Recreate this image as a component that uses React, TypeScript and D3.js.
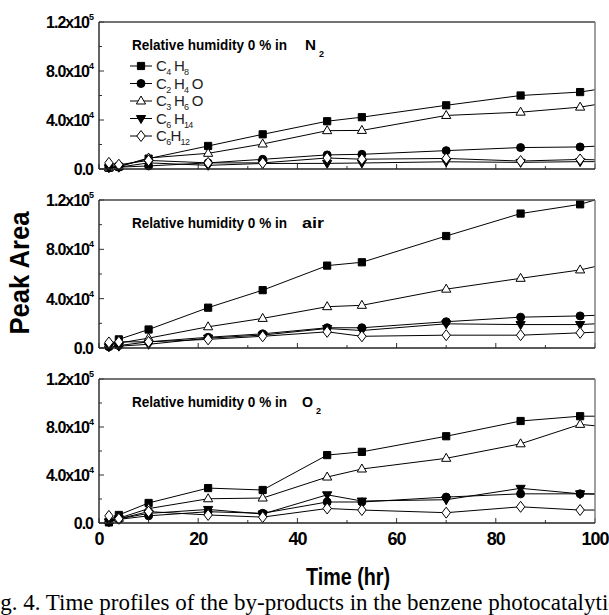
import * as React from "react";
import * as d3 from "d3";

// sampling times (hr); the last entry is where each line runs into the right frame (no marker drawn)
const times = [2, 4, 10, 22, 33, 46, 53, 70, 85, 97, 100];

const seriesKeys = ["C4H8", "C2H4O", "C3H6O", "C6H14", "C6H12"];
// legend labels split into [text, isSubscript]
const legendParts: [string, boolean][][] = [
  [["C", false], ["4", true], [" H", false], ["8", true]],
  [["C", false], ["2", true], [" H", false], ["4", true], [" O", false]],
  [["C", false], ["3", true], [" H", false], ["6", true], [" O", false]],
  [["C", false], ["6", true], [" H", false], ["14", true]],
  [["C", false], ["6", true], ["H", false], ["12", true]],
];
const markerKinds = ["square", "circle", "triUp", "triDown", "diamond"];
const markerFills = ["#000", "#000", "#fff", "#000", "#fff"];

// peak areas, one array per compound, per atmosphere
const n2C4H8 = [1e3, 2e3, 8.5e3, 18.8e3, 28.3e3, 39e3, 42.3e3, 52e3, 60e3, 62.8e3, 64.7e3];
const n2C2H4O = [1.5e3, 1.5e3, 2.5e3, 5e3, 7.9e3, 11.5e3, 12e3, 15e3, 17.5e3, 18e3, 18.6e3];
const n2C3H6O = [1e3, 2e3, 9e3, 12.8e3, 20.4e3, 31.3e3, 31.5e3, 43.7e3, 46.4e3, 50.5e3, 52.5e3];
const n2C6H14 = [1e3, 1.5e3, 5e3, 3e3, 4.5e3, 4.6e3, 4.9e3, 5.9e3, 5.4e3, 6e3, 6e3];
const n2C6H12 = [5e3, 3.5e3, 7e3, 5e3, 5e3, 9e3, 8e3, 8.6e3, 6.5e3, 7.8e3, 7.5e3];

const airC4H8 = [2e3, 7e3, 15e3, 32.7e3, 46.9e3, 66.8e3, 69.5e3, 90.8e3, 109e3, 116.5e3, 120e3];
const airC2H4O = [1e3, 2e3, 5e3, 8.7e3, 11.5e3, 16.4e3, 16.4e3, 21.3e3, 25e3, 26e3, 26.5e3];
const airC3H6O = [3e3, 4e3, 8e3, 17.2e3, 24e3, 33.5e3, 34.6e3, 47.7e3, 56.5e3, 63.3e3, 66e3];
const airC6H14 = [1e3, 1.5e3, 3e3, 8e3, 10.5e3, 15.8e3, 14.2e3, 19.6e3, 19e3, 19e3, 19.6e3];
const airC6H12 = [4.5e3, 5e3, 5e3, 7e3, 9.5e3, 13.1e3, 9.5e3, 10.4e3, 10.4e3, 12.3e3, 12.8e3];

const o2C4H8 = [0.5e3, 6.7e3, 16.7e3, 29.1e3, 27.5e3, 56.6e3, 59.3e3, 72.3e3, 85e3, 89e3, 89e3];
const o2C2H4O = [1e3, 3e3, 6e3, 9.4e3, 8.1e3, 17.5e3, 17.5e3, 21.6e3, 24.3e3, 24.3e3, 24.3e3];
const o2C3H6O = [2e3, 4e3, 12e3, 20.2e3, 20.8e3, 38.3e3, 45e3, 53.9e3, 66e3, 82.2e3, 81e3];
const o2C6H14 = [1e3, 3.5e3, 8e3, 11.3e3, 7.5e3, 23.5e3, 18.3e3, 19.4e3, 28.9e3, 24.3e3, 24e3];
const o2C6H12 = [5.9e3, 3.5e3, 9.5e3, 6.7e3, 4.9e3, 12.1e3, 10.8e3, 8.6e3, 13.5e3, 10.8e3, 10.8e3];

const panelSeries = [
  [n2C4H8, n2C2H4O, n2C3H6O, n2C6H14, n2C6H12],
  [airC4H8, airC2H4O, airC3H6O, airC6H14, airC6H12],
  [o2C4H8, o2C2H4O, o2C3H6O, o2C6H14, o2C6H12],
];
const panelGas = ["N", "air", "O"];
const panelGasSub = ["2", "", "2"];

const yTicks = [0, 4e4, 8e4, 1.2e5];
const yTickMant = ["0.0", "4.0x10", "8.0x10", "1.2x10"];
const yTickExp = ["", "4", "4", "5"];
const yMinor = [2e4, 6e4, 1e5];
const xTicks = [0, 20, 40, 60, 80, 100];
const xMinor = [10, 30, 50, 70, 90];

const W = 609;
const H = 615;
const left = 99;
const right = 595;
const panelTop = [22, 200, 379];
const panelBottom = [169, 348, 523];
const sans = "'Liberation Sans', Arial, sans-serif";

function markerPath(kind: string) {
  switch (kind) {
    case "square":
      return "M-3.6,-3.6h7.2v7.2h-7.2Z";
    case "circle":
      return "M4,0A4,4 0 1,1 -4,0A4,4 0 1,1 4,0Z";
    case "triUp":
      return "M0,-5L4.6,3L-4.6,3Z";
    case "triDown":
      return "M0,5L4.6,-3L-4.6,-3Z";
    default:
      return "M0,-5.5L4.2,0L0,5.5L-4.2,0Z";
  }
}

function Panel({ idx }: { idx: number }) {
  const x = d3.scaleLinear().domain([0, 100]).range([left, right]);
  const y = d3.scaleLinear().domain([0, 1.2e5]).range([panelBottom[idx], panelTop[idx]]);
  const line = d3
    .line<number>()
    .x((_, i) => x(times[i]))
    .y((d) => y(d));
  const top = panelTop[idx];
  const bottom = panelBottom[idx];
  const series = panelSeries[idx];
  const gasX = idx === 0 ? 305 : 302;

  return (
    <g>
      {/* ticks, inward */}
      {yTicks.map((t) => (
        <line key={"ym" + t} x1={left} x2={left + 5} y1={y(t)} y2={y(t)} stroke="#333" strokeWidth={1} />
      ))}
      {yMinor.map((t) => (
        <line key={"yn" + t} x1={left} x2={left + 3} y1={y(t)} y2={y(t)} stroke="#333" strokeWidth={1} />
      ))}
      {xTicks.map((t) => (
        <line key={"xm" + t} x1={x(t)} x2={x(t)} y1={bottom} y2={bottom - 5} stroke="#333" strokeWidth={1} />
      ))}
      {xMinor.map((t) => (
        <line key={"xn" + t} x1={x(t)} x2={x(t)} y1={bottom} y2={bottom - 3} stroke="#333" strokeWidth={1} />
      ))}

      {/* series lines */}
      {series.map((vals, si) => (
        <path key={"l" + si} d={line(vals) ?? ""} fill="none" stroke="#000" strokeWidth={1} />
      ))}
      {/* markers (skip the frame-edge entry) */}
      {series.map((vals, si) =>
        vals.slice(0, times.length - 1).map((v, i) => (
          <path
            key={seriesKeys[si] + i}
            transform={`translate(${x(times[i])},${y(v)})`}
            d={markerPath(markerKinds[si])}
            fill={markerFills[si]}
            stroke="#000"
            strokeWidth={1}
          />
        ))
      )}

      {/* frame */}
      <line x1={left} x2={right} y1={top} y2={top} stroke="#444" strokeWidth={1.4} />
      <line x1={right} x2={right} y1={top} y2={bottom} stroke="#777" strokeWidth={1.4} />
      <line x1={left} x2={left} y1={top} y2={bottom} stroke="#222" strokeWidth={1.4} />
      <line x1={left} x2={right} y1={bottom} y2={bottom} stroke="#222" strokeWidth={1.4} />

      {/* y tick labels */}
      {yTicks.map((t, i) =>
        yTickExp[i] ? (
          <g key={"yl" + t}>
            <text x={89} y={y(t) + 6} textAnchor="end" fontFamily={sans} fontWeight="bold" fontSize={16} letterSpacing={-1}>
              {yTickMant[i]}
            </text>
            <text x={89} y={y(t) - 2} fontFamily={sans} fontWeight="bold" fontSize={9}>
              {yTickExp[i]}
            </text>
          </g>
        ) : (
          <text key={"yl" + t} x={93} y={y(t) + 6} textAnchor="end" fontFamily={sans} fontWeight="bold" fontSize={16} letterSpacing={-1}>
            {yTickMant[i]}
          </text>
        )
      )}

      {/* panel title */}
      <text x={132} y={top + 28} fontFamily={sans} fontWeight="bold" fontSize={15} textLength={155} lengthAdjust="spacingAndGlyphs">
        Relative humidity 0 % in
      </text>
      <text x={gasX} y={top + 28} fontFamily={sans} fontWeight="bold" fontSize={15} textLength={panelGas[idx].length > 1 ? 22 : 11} lengthAdjust="spacingAndGlyphs">
        {panelGas[idx]}
      </text>
      {panelGasSub[idx] && (
        <text x={gasX + 14} y={top + 35} fontFamily={sans} fontWeight="bold" fontSize={9}>
          {panelGasSub[idx]}
        </text>
      )}
    </g>
  );
}

function Legend() {
  const rowY = [66, 83.5, 101, 118.5, 136];
  return (
    <g>
      {seriesKeys.map((k, i) => (
        <g key={k}>
          <line x1={130} x2={152} y1={rowY[i]} y2={rowY[i]} stroke="#000" strokeWidth={1} />
          <path transform={`translate(141,${rowY[i]})`} d={markerPath(markerKinds[i])} fill={markerFills[i]} stroke="#000" strokeWidth={1} />
          <text x={156} y={rowY[i] + 5} fontFamily={sans} fontSize={15} fill="#222" letterSpacing={-0.7}>
            {legendParts[i].map(([s, sub], j) =>
              sub ? (
                <tspan key={j} fontSize={9} dy={4}>
                  {s}
                </tspan>
              ) : (
                <tspan key={j} dy={j === 0 ? 0 : -4}>
                  {s}
                </tspan>
              )
            )}
          </text>
        </g>
      ))}
    </g>
  );
}

export default function App() {
  const x = d3.scaleLinear().domain([0, 100]).range([left, right]);
  return (
    <svg width={W} height={H} style={{ position: "absolute", left: 0, top: 0, background: "#fff" }}>
      <rect width={W} height={H} fill="#fff" />
      {panelTop.map((_, i) => (
        <Panel key={i} idx={i} />
      ))}
      <Legend />

      {/* x tick labels, bottom panel only */}
      {xTicks.map((t) => (
        <text key={"xl" + t} x={x(t)} y={545} textAnchor="middle" fontFamily={sans} fontWeight="bold" fontSize={18} letterSpacing={-1}>
          {t}
        </text>
      ))}

      <text x={348} y={585} textAnchor="middle" fontFamily={sans} fontWeight="bold" fontSize={23} textLength={84} lengthAdjust="spacingAndGlyphs">
        Time (hr)
      </text>
      <text
        transform="translate(29,273) rotate(-90)"
        textAnchor="middle"
        fontFamily={sans}
        fontWeight="bold"
        fontSize={27}
        textLength={123}
        lengthAdjust="spacingAndGlyphs"
      >
        Peak Area
      </text>

      <text x={-19} y={610} fontFamily="'Liberation Serif', 'Times New Roman', serif" fontSize={23}>
        Fig. 4. Time profiles of the by-products in the benzene photocatalytic oxidation
      </text>
    </svg>
  );
}
